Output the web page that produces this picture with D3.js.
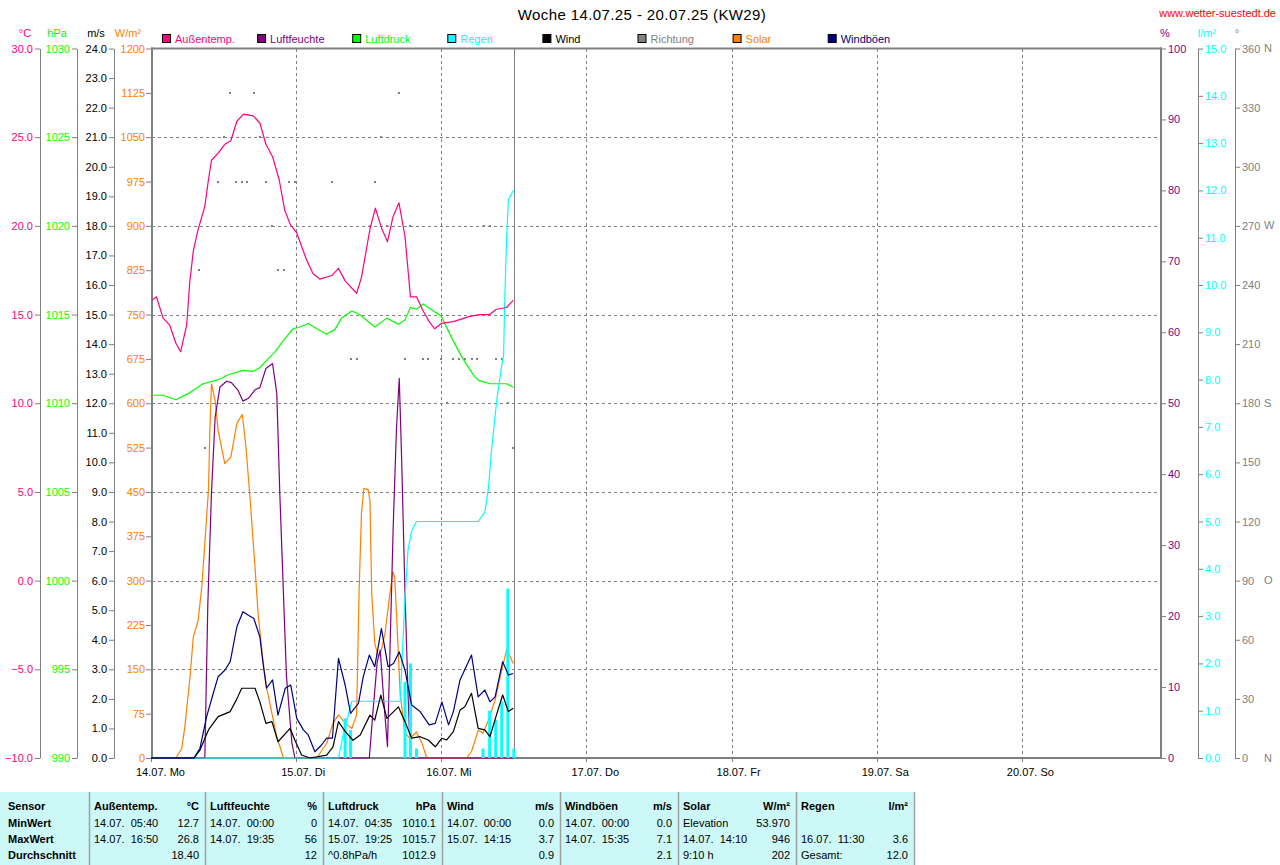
<!DOCTYPE html>
<html><head><meta charset="utf-8">
<script src="https://cdn.jsdelivr.net/npm/d3@7"></script>
<style>
html,body{margin:0;padding:0;background:#fff;}
svg{display:block;font-family:"Liberation Sans",Arial,sans-serif;}
</style></head><body>
<svg id="c" width="1280" height="865"></svg>
<script>
// ---------- DATA (hours since 14.07. 00:00, value) ----------
const dayLabels = ["14.07. Mo","15.07. Di","16.07. Mi","17.07. Do","18.07. Fr","19.07. Sa","20.07. So"];
const tempTicks = [-10,-5,0,5,10,15,20,25,30];
const pressTicks = [990,995,1000,1005,1010,1015,1020,1025,1030];
const windTicks = d3.range(0,25,1);
const solarTicks = d3.range(0,1201,75);
const humTicks = d3.range(0,101,10);
const rainTicks = d3.range(0,16,1);
const dirTicks = d3.range(0,361,30);
const dirLetters = [[0,"N"],[90,"O"],[180,"S"],[270,"W"],[360,"N"]];

const temperature = [[0.1,15.8],[0.9,16.0],[2.0,14.8],[3.1,14.4],[4.1,13.4],[4.9,12.9],[5.9,14.4],[6.4,16.8],[7.0,18.6],[7.8,19.8],[8.9,21.1],[9.5,22.6],[10.0,23.7],[11.1,24.1],[12.2,24.6],[13.2,24.8],[14.2,25.9],[15.3,26.3],[16.9,26.2],[18.0,25.8],[19.0,24.6],[20.1,23.9],[21.2,22.6],[22.1,20.9],[23.0,20.1],[24.1,19.6],[25.7,18.1],[26.8,17.3],[27.9,17.0],[29.9,17.2],[31.0,17.6],[32.1,16.9],[34.0,16.2],[34.8,17.1],[36.2,19.8],[37.1,21.0],[38.1,19.9],[39.1,19.1],[40.0,20.5],[41.0,21.3],[42.0,19.4],[42.9,16.0],[43.9,16.0],[45.0,15.2],[46.0,14.6],[46.9,14.2],[48.0,14.5],[50.0,14.6],[52.7,14.9],[54.4,15.0],[56.0,15.0],[57.1,15.3],[58.8,15.4],[59.9,15.8]];

const humidity = [[0,0],[8.9,0],[9.4,21.8],[10.0,37.3],[10.6,48],[11.4,52.3],[12.5,53.1],[13.3,52.9],[14.4,51.8],[15.2,50.3],[16.1,50.7],[17.2,51.9],[18.0,52.2],[19.0,54.9],[20.1,55.6],[20.8,51.4],[21.3,37.3],[21.9,23.2],[22.4,11.5],[23.3,2.1],[23.8,0],[36.1,0],[36.7,6.5],[37.4,13.5],[37.9,15.2],[38.5,8],[39.1,1.6],[40.05,32.6],[40.6,46.7],[41.05,53.5],[41.45,42],[42.0,23.2],[42.5,9.1],[42.9,0],[59.9,0]];

const pressure = [[0.1,1010.45],[2.0,1010.45],[4.1,1010.2],[6.45,1010.6],[8.6,1011.1],[10.9,1011.3],[13.1,1011.65],[15.3,1011.85],[16.9,1011.8],[18.0,1012.0],[18.8,1012.3],[20.5,1012.9],[21.9,1013.55],[23.5,1014.2],[24.6,1014.3],[26.0,1014.5],[27.4,1014.2],[29.0,1013.9],[30.4,1014.15],[31.5,1014.8],[33.2,1015.2],[34.5,1015.0],[37.0,1014.3],[39.0,1014.8],[40.9,1014.45],[42.0,1014.7],[42.9,1015.4],[43.9,1015.3],[45.0,1015.6],[46.7,1015.2],[48.0,1014.9],[49.7,1013.7],[51.4,1012.6],[53.3,1011.6],[54.1,1011.3],[56.0,1011.1],[58.8,1011.1],[59.9,1010.9]];

const rainTotal = [[0,0],[31.0,0],[31.8,0.5],[33.2,1.2],[41.2,1.2],[41.6,2.3],[42.0,3.4],[42.5,4.4],[43.1,4.8],[43.9,5.0],[54.1,5.0],[55.2,5.2],[55.8,5.7],[56.3,6.5],[57.2,7.6],[58.0,8.3],[58.3,8.5],[58.5,9.7],[58.8,11.0],[59.1,11.8],[59.9,12.0]];

const rainHourly = [[32.1,0.84],[33.0,0.59],[42.0,1.61],[42.9,2.0],[43.9,0.2],[54.9,0.2],[56.0,1.0],[57.0,0.8],[58.0,1.19],[59.0,3.58],[60.0,0.2]];

const wind = [[0,0],[7.1,0],[8.1,0.27],[9.5,0.95],[11.1,1.4],[13.1,1.57],[14.2,2.0],[15.0,2.36],[17.2,2.36],[18.0,1.9],[19.0,1.17],[20.0,1.23],[21.0,0.55],[23.0,1.0],[23.8,0.6],[24.9,0.1],[26.3,0],[29.05,0.1],[30.1,0.38],[31.0,1.23],[32.1,0.9],[33.4,0.6],[34.6,0.78],[36.2,1.45],[37.0,1.28],[38.0,2.13],[39.0,1.34],[40.9,1.73],[42.0,1.23],[43.1,0.67],[44.5,0.72],[45.85,0.61],[47.0,0.38],[48.1,0.67],[48.9,0.61],[50.0,0.89],[51.1,1.62],[51.9,1.73],[53.0,2.19],[54.1,1.0],[55.2,0.95],[56.05,0.72],[57.2,1.51],[58.15,2.13],[59.1,1.57],[59.9,1.68]];

const gusts = [[0,0],[7.1,0],[8.1,0.33],[9.2,1.4],[10.3,2.19],[11.1,2.75],[12.2,2.97],[13.1,3.26],[14.2,4.44],[15.2,4.95],[16.1,4.83],[17.0,4.72],[18.0,4.1],[18.6,3.09],[19.1,2.36],[20.1,2.64],[21.0,1.45],[22.2,2.36],[23.1,2.47],[24.1,1.34],[25.2,0.95],[26.0,0.78],[27.1,0.21],[28.2,0.44],[29.05,0.67],[30.0,0.67],[31.0,3.37],[32.1,2.47],[33.0,1.51],[34.3,1.85],[35.1,2.75],[36.1,3.48],[37.0,3.09],[38.1,4.38],[39.2,3.09],[40.1,3.2],[41.05,3.59],[42.0,2.97],[43.1,1.79],[44.5,1.57],[46.0,1.12],[47.0,1.17],[48.1,1.9],[49.2,1.12],[50.0,1.57],[51.1,2.64],[53.0,3.48],[54.1,2.07],[55.2,2.3],[56.05,1.9],[56.9,2.07],[58.15,3.26],[59.1,2.81],[59.9,2.86]];

const solar = [[0,0],[4.13,0],[5.08,16],[5.6,53],[6.45,137],[7.0,205],[7.8,233],[8.4,290],[8.9,363],[9.5,453],[9.75,560],[10.0,633],[10.6,605],[11.1,554],[12.2,498],[13.2,509],[14.2,566],[15.1,581],[15.7,526],[16.4,436],[17.2,323],[17.7,245],[18.5,166],[19.1,120],[20.0,75],[20.8,36],[21.9,0],[27.4,0],[29.05,25],[30.1,59],[31.0,73],[32.1,59],[33.2,50],[34.0,73],[34.4,278],[34.8,414],[35.2,456],[35.9,454],[36.2,436],[36.5,278],[37.0,194],[37.6,171],[38.1,183],[38.7,211],[39.5,278],[40.0,315],[40.3,306],[40.7,222],[41.2,109],[42.0,42],[42.8,33],[43.9,44],[44.8,25],[45.6,0],[52.2,0],[53.0,11],[54.1,47],[54.9,42],[55.8,64],[56.9,98],[58.0,149],[58.8,183],[59.4,171],[59.9,160]];

const direction = [[7.9,247.5],[8.9,157.5],[11.0,292.5],[12.1,315],[13.1,337.5],[14.0,292.5],[15.0,292.5],[15.9,292.5],[17.0,337.5],[18.1,315],[19.0,292.5],[20.0,270],[21.0,247.5],[22.0,247.5],[22.9,292.5],[23.8,292.5],[29.9,292.5],[33.0,202.5],[34.0,202.5],[36.2,270],[37.0,292.5],[38.0,315],[39.0,270],[41.0,337.5],[42.0,202.5],[42.9,270],[43.9,90],[44.9,202.5],[45.8,202.5],[48.0,202.5],[48.9,180],[50.0,202.5],[51.0,202.5],[51.9,202.5],[53.0,202.5],[53.9,202.5],[55.0,270],[56.0,270],[57.0,202.5],[58.0,202.5],[59.0,180],[59.9,157.5]];

const nowHour = 60;

const legendItems = [["Außentemp.","#ff0080"],["Luftfeuchte","#800080"],["Luftdruck","#00ff00"],["Regen","#00ffff"],["Wind","#000000"],["Richtung","#808080"],["Solar","#ff8000"],["Windböen","#000080"]];

const tableCols = [
  {head:"Sensor", unit:"", rows:[["MinWert",""],["MaxWert",""],["Durchschnitt",""]], bold:true},
  {head:"Außentemp.", unit:"°C", rows:[["14.07.  05:40","12.7"],["14.07.  16:50","26.8"],["","18.40"]]},
  {head:"Luftfeuchte", unit:"%", rows:[["14.07.  00:00","0"],["14.07.  19:35","56"],["","12"]]},
  {head:"Luftdruck", unit:"hPa", rows:[["14.07.  04:35","1010.1"],["15.07.  19:25","1015.7"],["^0.8hPa/h","1012.9"]]},
  {head:"Wind", unit:"m/s", rows:[["14.07.  00:00","0.0"],["15.07.  14:15","3.7"],["","0.9"]]},
  {head:"Windböen", unit:"m/s", rows:[["14.07.  00:00","0.0"],["14.07.  15:35","7.1"],["","2.1"]]},
  {head:"Solar", unit:"W/m²", rows:[["Elevation","53.970"],["14.07.  14:10","946"],["9:10 h","202"]]},
  {head:"Regen", unit:"l/m²", rows:[["",""],["16.07.  11:30","3.6"],["Gesamt:","12.0"]]}
];
const tableSeps = [0,89,205,323,442,560,678,796,914];

// ---------- LAYOUT ----------
const svg = d3.select("#c");
const FONT = '"Liberation Sans",Arial,sans-serif';
const T = 48.5, B = 758, L = 152, R = 1161;
const x = d3.scaleLinear([0,168],[151,1167]);
const yT = d3.scaleLinear([-10,30],[B,T]);
const yP = d3.scaleLinear([990,1030],[B,T]);
const yW = d3.scaleLinear([0,24],[B,T]);
const yS = d3.scaleLinear([0,1200],[B,T]);
const yH = d3.scaleLinear([0,100],[B,T]);
const yR = d3.scaleLinear([0,15],[B,T]);
const yD = d3.scaleLinear([0,360],[B,T]);

// title & site
svg.append("text").attr("x",642).attr("y",20).attr("text-anchor","middle")
  .attr("font-size",15).attr("letter-spacing",0.4).attr("fill","#000").text("Woche 14.07.25 - 20.07.25 (KW29)");
svg.append("text").attr("x",1276).attr("y",17).attr("text-anchor","end")
  .attr("font-size",11).attr("fill","#ff0000").text("www.wetter-suestedt.de");

// unit headers
const units = [["°C",25,"#ff0080"],["hPa",57,"#00ff00"],["m/s",96,"#000"],["W/m²",128,"#ff8000"],["%",1165,"#800080"],["l/m²",1207,"#00ffff"],["°",1237,"#808080"]];
units.forEach(u=>svg.append("text").attr("x",u[1]).attr("y",37).attr("text-anchor","middle")
  .attr("font-size",11).attr("fill",u[2]).text(u[0]));

// legend
const lg = svg.append("g");
legendItems.forEach((d,i)=>{
  const gx = 162 + i*95.1;
  lg.append("rect").attr("x",gx+0.5).attr("y",34.5).attr("width",8).attr("height",8)
    .attr("fill",d[1]).attr("stroke","#000").attr("stroke-width",1);
  lg.append("text").attr("x",gx+13).attr("y",42.5).attr("font-size",11).attr("fill",d[1]).text(d[0]);
});

// axes helpers
function styleAxis(g,color){
  g.attr("font-family",FONT).attr("font-size",11);
  g.select(".domain").attr("stroke","#808080");
  g.selectAll(".tick line").attr("stroke","#808080");
  g.selectAll(".tick text").attr("fill",color);
}
function leftAxis(xp,scale,ticks,fmt,color,pad){
  const g = svg.append("g").attr("transform",`translate(${xp},0)`)
    .call(d3.axisLeft(scale).tickValues(ticks).tickFormat(fmt).tickSize(5).tickSizeOuter(0).tickPadding(pad));
  styleAxis(g,color); return g;
}
function rightAxis(xp,scale,ticks,fmt,color,pad,hideDomain){
  const g = svg.append("g").attr("transform",`translate(${xp},0)`)
    .call(d3.axisRight(scale).tickValues(ticks).tickFormat(fmt).tickSize(5).tickSizeOuter(0).tickPadding(pad));
  styleAxis(g,color);
  if(hideDomain) g.select(".domain").remove();
  return g;
}
leftAxis(40,yT,tempTicks,d3.format(".1f"),"#ff0080",2);
leftAxis(77,yP,pressTicks,d3.format("d"),"#00ff00",2);
leftAxis(114,yW,windTicks,d3.format(".1f"),"#000000",2);
const sa = leftAxis(151,yS,solarTicks,d3.format("d"),"#ff8000",1);
sa.select(".domain").remove();
rightAxis(1161,yH,humTicks,d3.format("d"),"#800080",2,true);
rightAxis(1198,yR,rainTicks,d3.format(".1f"),"#00ffff",2,false);
rightAxis(1235,yD,dirTicks,d3.format("d"),"#808080",2,false);
svg.append("g").selectAll("text").data(dirLetters).join("text")
  .attr("x",1264).attr("y",d=>yD(d[0])).attr("dy","0.32em")
  .attr("font-size",11).attr("fill","#808080").text(d=>d[1]);

// grid
const grid = svg.append("g").attr("stroke","#808080").attr("stroke-dasharray","3,3").attr("shape-rendering","crispEdges");
tempTicks.slice(1,-1).forEach(v=>grid.append("line").attr("x1",L).attr("x2",R).attr("y1",Math.round(yT(v))+0.5).attr("y2",Math.round(yT(v))+0.5));
d3.range(1,7).forEach(d=>grid.append("line").attr("x1",Math.round(x(d*24))+0.5).attr("x2",Math.round(x(d*24))+0.5).attr("y1",T).attr("y2",B));

// frame
const fr = svg.append("g").attr("stroke","#808080").attr("stroke-width",2);
fr.append("line").attr("x1",L).attr("x2",L).attr("y1",T-1).attr("y2",B+1);
fr.append("line").attr("x1",R).attr("x2",R).attr("y1",T-1).attr("y2",B+1);
fr.append("line").attr("x1",L-1).attr("x2",R+1).attr("y1",T).attr("y2",T);
fr.append("line").attr("x1",L-1).attr("x2",R+1).attr("y1",B).attr("y2",B);

// x labels and ticks
d3.range(0,7).forEach(d=>{
  svg.append("line").attr("x1",Math.round(x(d*24))+0.5).attr("x2",Math.round(x(d*24))+0.5)
    .attr("y1",B).attr("y2",B+4).attr("stroke","#808080");
  svg.append("text").attr("x",x(d*24)-15).attr("y",776).attr("font-size",11).attr("fill","#000").text(dayLabels[d]);
});

// now line
svg.append("line").attr("x1",Math.round(x(nowHour))+0.5).attr("x2",Math.round(x(nowHour))+0.5)
  .attr("y1",T).attr("y2",B).attr("stroke","#808080").attr("stroke-width",1);

// direction dots
svg.append("g").selectAll("rect").data(direction).join("rect")
  .attr("x",d=>Math.round(x(d[0]))-1).attr("y",d=>Math.round(yD(d[1]))-1)
  .attr("width",2).attr("height",2).attr("fill","#808080");

function drawLine(data,ys,color){
  svg.append("path").datum(data)
    .attr("d",d3.line().x(d=>x(d[0])).y(d=>ys(d[1])))
    .attr("fill","none").attr("stroke",color).attr("stroke-width",1.2).attr("stroke-linejoin","round");
}
drawLine(solar,yS,"#ff8000");
drawLine(humidity,yH,"#800080");
drawLine(pressure,yP,"#00ff00");
drawLine(rainTotal,yR,"#00ffff");
svg.append("g").selectAll("rect").data(rainHourly).join("rect")
  .attr("x",d=>x(d[0])-1.5).attr("width",3)
  .attr("y",d=>yR(d[1])).attr("height",d=>yR(0)-yR(d[1])).attr("fill","#00ffff");
drawLine(wind,yW,"#000000");
drawLine(gusts,yW,"#000080");
drawLine(temperature,yT,"#ff0080");

// table
const tb = svg.append("g");
tb.append("rect").attr("x",0).attr("y",792).attr("width",914).attr("height",73).attr("fill","#ccf8f8");
tableSeps.slice(1).forEach(s=>tb.append("line").attr("x1",s+0.5).attr("x2",s+0.5).attr("y1",792).attr("y2",865)
  .attr("stroke","#a0a0a0").attr("stroke-width",1.5));
const rowsY = [810,826.5,843,859];
tableCols.forEach((c,i)=>{
  const lx = i===0 ? 8 : tableSeps[i]+5;
  const rx = tableSeps[i+1]-6;
  tb.append("text").attr("x",lx).attr("y",rowsY[0]).attr("font-size",11).attr("font-weight","bold").text(c.head);
  if(c.unit) tb.append("text").attr("x",rx).attr("y",rowsY[0]).attr("text-anchor","end").attr("font-size",11).attr("font-weight","bold").text(c.unit);
  c.rows.forEach((r,j)=>{
    tb.append("text").attr("x",lx).attr("y",rowsY[j+1]).attr("font-size",11)
      .attr("font-weight",c.bold?"bold":"normal").style("white-space","pre").text(r[0]);
    if(r[1]) tb.append("text").attr("x",rx).attr("y",rowsY[j+1]).attr("text-anchor","end").attr("font-size",11).text(r[1]);
  });
});
</script>
</body></html>
